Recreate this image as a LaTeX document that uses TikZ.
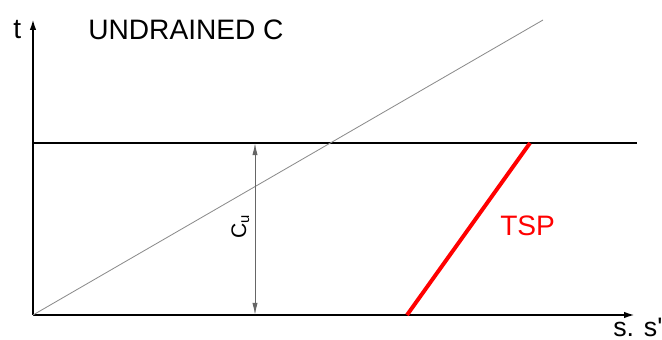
\documentclass[tikz,border=0pt]{standalone}
\usepackage{fontspec}
\setmainfont{Liberation Sans}
\usetikzlibrary{arrows.meta, positioning}
\definecolor{tspcolor}{RGB}{255, 0, 0}
\definecolor{envcolor}{RGB}{140, 140, 140}

\begin{document}
\begin{tikzpicture}[
    x=0.025cm, y=-0.025cm,
    axisline/.style={line width=1.9pt, -{Latex[length=3mm, width=1.6mm]}},
    levelline/.style={line width=1.4pt},
    envline/.style={line width=0.6pt, color=envcolor},
    dimline/.style={line width=0.7pt, color=black!60, {Latex[length=3mm, width=1.3mm]}-{Latex[length=3mm, width=1.3mm]}},
    tspline/.style={line width=2.8pt, color=tspcolor},
    labeltext/.style={inner sep=0pt, font=\fontsize{20}{24}\selectfont}
]
\useasboundingbox (0,0) rectangle (662,340);

% Axes
\coordinate (o) at (33,315);
\coordinate (ytop) at (33,18);
\coordinate (xend) at (636,315);
\draw[axisline] (o) -- (ytop);
\draw[axisline] (o) -- (xend);

% Undrained strength level
\coordinate (cl) at (33,143);
\coordinate (cr) at (637,143);
\draw[levelline] (cl) -- (cr);

% Envelope
\coordinate (env) at (543,20);
\draw[envline] (o) -- (env);

% Cu dimension
\coordinate (dtop) at (255,143);
\coordinate (dbot) at (255,315);
\draw[dimline] (dbot) -- (dtop);
\node[labeltext, font=\fontsize{15}{17}\selectfont, rotate=90, anchor=base west] (cu) at (246,239) {C\textsubscript{u}};

% TSP
\coordinate (tspa) at (407,315);
\coordinate (tspb) at (530,143);
\draw[tspline] (tspa) -- (tspb);
\node[labeltext, anchor=base west, text=tspcolor] (tsp) at (500,235) {TSP};

% Labels
\node[labeltext, anchor=base west] (title) at (88,40) {UNDRAINED C};
\node[labeltext, anchor=base west] (tlab) at (13,39) {t};
\node[labeltext, anchor=base west, font=\fontsize{19}{22}\selectfont] (slab) at (613,336) {s. s\textquotesingle};

\end{tikzpicture}
\end{document}
